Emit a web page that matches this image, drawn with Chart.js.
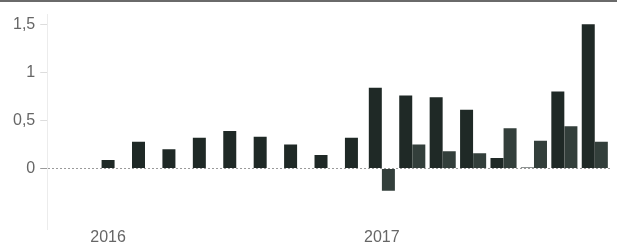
<!DOCTYPE html>
<html>
<head>
<meta charset="utf-8">
<script src="https://cdn.jsdelivr.net/npm/chart.js@4/dist/chart.umd.min.js"></script>
<style>
    body { margin: 0; background: #fff; }
    #wrap { position: relative; width: 617px; height: 244px; }
    #topline { position: absolute; left: 0; top: 0; width: 617px; height: 2px; background: #6a6a6a; }
</style>
</head>
<body>
<div id="wrap">
    <canvas id="myChart"></canvas>
    <div id="topline"></div>
</div>
<script>
// miesiace (indeks na osi x)
const months = [0, 1, 2, 3, 4, 5, 6, 7, 8, 9, 10, 11, 12, 13, 14, 15, 16];
// seria ciemna
const seriesA = [0.09, 0.28, 0.20, 0.32, 0.39, 0.33, 0.25, 0.14, 0.32, 0.84, 0.76, 0.74, 0.61, 0.11, 0.01, 0.80, 1.50];
// seria jasniejsza
const seriesB = [null, null, null, null, null, null, null, null, null, -0.23, 0.25, 0.18, 0.16, 0.42, 0.29, 0.44, 0.28];

// opisy osi
const xTicks = [0, 9];
const xLabels = ['2016', '2017'];
const yTicks = [0, 0.5, 1, 1.5];

function points(values) {
    return months.map((m, i) => ({ x: m, y: values[i] }));
}

const data = {
    datasets: [{
        label: 'A',
        backgroundColor: '#1f2926',
        data: points(seriesA),
    }, {
        label: 'B',
        backgroundColor: '#333f3b',
        data: points(seriesB),
    }]
};

const config = {
    type: 'bar',
    data: data,
    options: {
        responsive: true,
        maintainAspectRatio: false,
        animation: false,
        skipNull: true,
        maxBarThickness: 13,
        categoryPercentage: 0.86,
        barPercentage: 1,
        borderWidth: 0,
        layout: {
            padding: { top: 12.5, right: 7, left: 8, bottom: -4 }
        },
        plugins: {
            legend: { display: false },
            tooltip: { enabled: false }
        },
        scales: {
            x: {
                type: 'linear',
                offset: false,
                min: -2,
                max: 16.5,
                grid: { display: false, drawTicks: false, offset: false },
                border: { display: false },
                afterBuildTicks: (scale) => {
                    scale.ticks = xTicks.map(v => ({ value: v }));
                },
                ticks: {
                    color: '#666',
                    padding: 0,
                    maxRotation: 0,
                    font: { family: 'Liberation Sans', size: 16, lineHeight: 1 },
                    callback: (v) => xLabels[xTicks.indexOf(v)]
                }
            },
            y: {
                min: -0.632,
                max: 1.6,
                afterBuildTicks: (scale) => {
                    scale.ticks = yTicks.map(v => ({ value: v }));
                },
                grid: {
                    color: (ctx) => ctx.tick && ctx.tick.value === 0 ? '#9a9a9a' : 'rgba(0,0,0,0)',
                    tickColor: (ctx) => ctx.tick && ctx.tick.value === 0 ? '#9a9a9a' : '#dddddd',
                    tickLength: 7,
                    lineWidth: 1
                },
                border: { display: true, color: '#ececec', dash: [2, 2] },
                ticks: {
                    color: '#666',
                    padding: 5,
                    font: { family: 'Liberation Sans', size: 16 },
                    callback: (v) => String(v).replace('.', ',')
                }
            }
        }
    }
};

const myChart = new Chart(
    document.getElementById('myChart'),
    config
);
</script>
</body>
</html>
